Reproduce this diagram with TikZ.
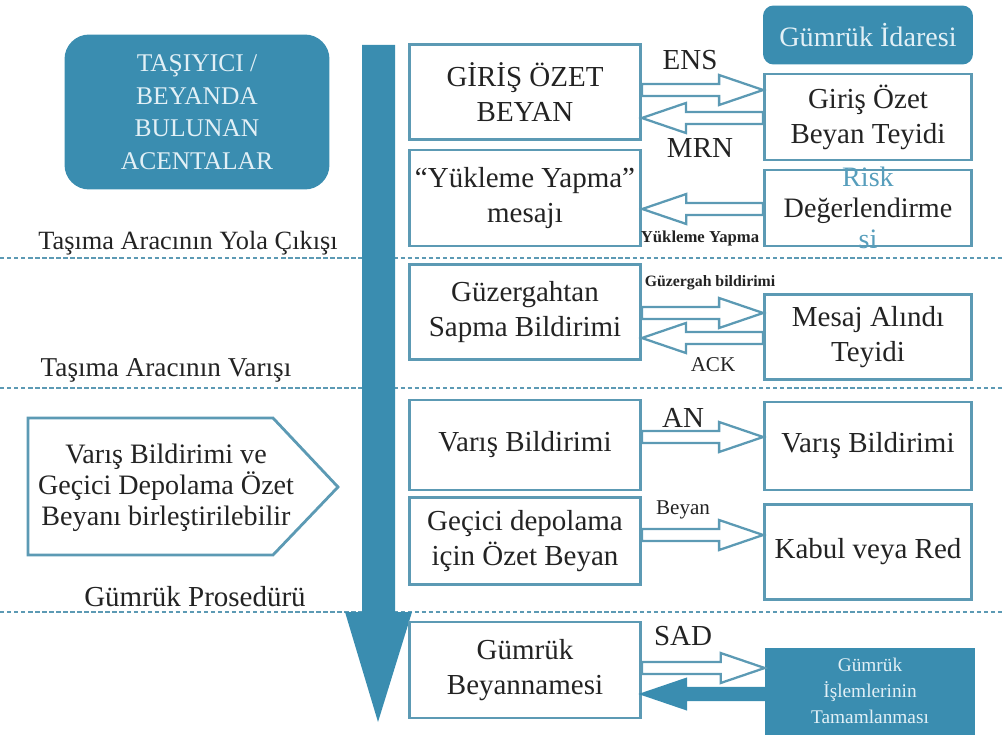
\documentclass[tikz,border=0pt]{standalone}
\usepackage{fontspec}
\setmainfont{Liberation Serif}
\usetikzlibrary{calc}
\definecolor{teal1}{RGB}{58,141,176}
\definecolor{edge}{RGB}{92,154,180}
\definecolor{pale}{RGB}{226,240,246}
\definecolor{ink}{RGB}{35,35,35}
\begin{document}
\begin{tikzpicture}[x=0.02cm,y=-0.02cm,text=ink,
  box/.style={draw=edge,line width=1.6pt,fill=white,align=center,font=\fontsize{16.5}{20}\selectfont},
  head/.style={fill=teal1,text=pale,align=center},
  lbl/.style={font=\fontsize{16.5}{20}\selectfont},
  small/.style={font=\fontsize{9}{10}\selectfont\bfseries},
  stage/.style={font=\fontsize{15}{17}\selectfont},
  sep/.style={draw=edge,line width=0.7pt,dash pattern=on 2.5pt off 1.5pt},
  blk/.style={draw=edge,line width=1.3pt,line join=miter,
    to path={($(\tikztostart)+(0,-6)$) -- ($(\tikztotarget)+(-44*#1,-6)$) -- ($(\tikztotarget)+(-44*#1,-15)$)
      -- (\tikztotarget) -- ($(\tikztotarget)+(-44*#1,15)$) -- ($(\tikztotarget)+(-44*#1,6)$) -- ($(\tikztostart)+(0,6)$) -- cycle}}]

\useasboundingbox (0,0) rectangle (1003,740);

% stage lines
\draw[sep] (0,258) -- (1003,258);
\draw[sep] (0,388) -- (1003,388);
\draw[sep] (0,612) -- (1003,612);

\node[stage] (yola) at (188,243) {Taşıma Aracının Yola Çıkışı};
\node[stage,font=\fontsize{15.5}{17}\selectfont] (varisi) at (166,370) {Taşıma Aracının Varışı};
\node[stage,font=\fontsize{16.5}{17}\selectfont] (prosedur) at (195,597) {Gümrük Prosedürü};

% time arrow
\fill[teal1] (362,45) -- (395,45) -- (395,612) -- (412,612) -- (378,722) -- (345,612) -- (362,612) -- cycle;

\node[head,rounded corners=14pt,minimum width=5.3cm,minimum height=3.1cm,font=\fontsize{14.5}{18.5}\selectfont] (tasiyici) at (197,112) {TAŞIYICI /\\BEYANDA\\BULUNAN\\ACENTALAR};
\node[head,rounded corners=6pt,minimum width=4.2cm,minimum height=1.18cm,font=\fontsize{16}{19}\selectfont] (idare) at (868,35) {Gümrük İdaresi};

\draw[edge,line width=1.6pt,line join=miter] (28,418) -- (273,418) -- (338,487) -- (273,555) -- (28,555) -- cycle;
\node[align=center,font=\fontsize{16}{17.5}\selectfont] (birles) at (166,488) {Varış Bildirimi ve\\Geçici Depolama Özet\\Beyanı birleştirilebilir};

% declarant side
\node[box,minimum width=4.62cm,minimum height=1.9cm] (gob) at (525,92) {GİRİŞ ÖZET\\BEYAN};
\node[box,minimum width=4.62cm,minimum height=1.92cm] (ykl) at (525,198) {“Yükleme Yapma”\\mesajı};
\node[box,minimum width=4.62cm,minimum height=1.9cm] (guz) at (525,312) {Güzergahtan\\Sapma Bildirimi};
\node[box,minimum width=4.62cm,minimum height=1.8cm] (varis) at (525,445) {Varış Bildirimi};
\node[box,minimum width=4.62cm,minimum height=1.74cm] (gecici) at (525,541) {Geçici depolama\\için Özet Beyan};
\node[box,minimum width=4.62cm,minimum height=1.92cm] (beyan) at (525,670) {Gümrük\\Beyannamesi};

% customs side
\node[box,minimum width=4.14cm,minimum height=1.72cm] (rgob) at (868,117) {Giriş Özet\\Beyan Teyidi};
\node[box,minimum width=4.14cm,minimum height=1.52cm,inner ysep=-4.5pt,font=\fontsize{16}{17.6}\selectfont] (risk) at (868,208)
  {\textcolor{teal1!85}{Risk}\\Değerlendirme\\\textcolor{teal1!85}{si}};
\node[box,minimum width=4.14cm,minimum height=1.7cm] (mesaj) at (868,337) {Mesaj Alındı\\Teyidi};
\node[box,minimum width=4.14cm,minimum height=1.76cm] (rvaris) at (868,446) {Varış Bildirimi};
\node[box,minimum width=4.14cm,minimum height=1.9cm] (kabul) at (868,552) {Kabul veya Red};
\node[head,minimum width=4.2cm,minimum height=1.74cm,font=\fontsize{11}{15}\selectfont] (tamam) at (870,691) {Gümrük\\İşlemlerinin\\Tamamlanması};

% message levels
\coordinate (yEns) at (0,90);
\coordinate (yMrn) at (0,118);
\coordinate (yYuk) at (0,209);
\coordinate (yGuz) at (0,313);
\coordinate (yAck) at (0,338);
\coordinate (yAn) at (0,437);
\coordinate (yBey) at (0,535);
\coordinate (ySad) at (0,668);
\coordinate (yRet) at (0,694);

\draw[blk=1] (gob.east |- yEns) to (rgob.west |- yEns);
\draw[blk=-1] (rgob.west |- yMrn) to (gob.east |- yMrn);
\draw[blk=-1] (risk.west |- yYuk) to (ykl.east |- yYuk);
\draw[blk=1] (guz.east |- yGuz) to (mesaj.west |- yGuz);
\draw[blk=-1] (mesaj.west |- yAck) to (guz.east |- yAck);
\draw[blk=1] (varis.east |- yAn) to (rvaris.west |- yAn);
\draw[blk=1] (gecici.east |- yBey) to (kabul.west |- yBey);
\draw[blk=1] (beyan.east |- ySad) to (tamam.west |- ySad);
\draw[blk=-1,fill=teal1,draw=teal1] (tamam.west |- yRet) to (beyan.east |- yRet);

\node[lbl] (ens) at (690,60) {ENS};
\node[lbl] (mrn) at (700,148) {MRN};
\node[small,font=\fontsize{9.5}{10}\selectfont\bfseries] (yuk) at (700,238) {Yükleme Yapma};
\node[small] (guzb) at (710,283) {Güzergah bildirimi};
\node[font=\fontsize{12}{14}\selectfont] (ack) at (713,365) {ACK};
\node[lbl] (an) at (683,418) {AN};
\node[font=\fontsize{12}{14}\selectfont] (bey) at (683,510) {Beyan};
\node[lbl] (sad) at (683,636) {SAD};
\end{tikzpicture}
\end{document}
